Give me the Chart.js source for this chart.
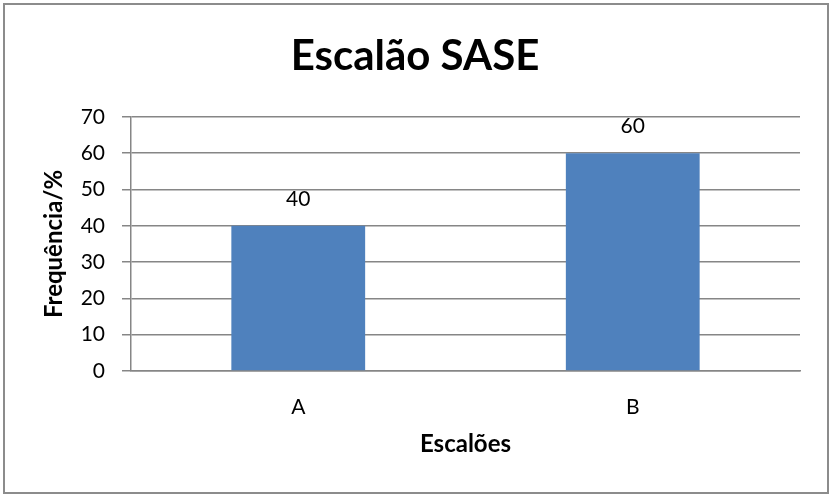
<!DOCTYPE html>
<html>
<head>
<meta charset="utf-8">
<script src="https://cdn.jsdelivr.net/npm/chart.js@4/dist/chart.umd.min.js"></script>
<style>
html,body{margin:0;padding:0;background:#fff;}
#wrap{position:relative;width:830px;height:495px;}
</style>
</head>
<body>
<div id="wrap"><canvas id="c" width="830" height="495"></canvas></div>
<script>
const categories = ['A', 'B'];
const values = [40, 60];
const yTicks = [0, 10, 20, 30, 40, 50, 60, 70];
const titleText = 'Escalão SASE';
const xTitle = 'Escalões';
const yTitle = 'Frequência/%';

const FONT = "Lato, 'Open Sans', 'DejaVu Sans', sans-serif";
const GRAY = '#868686';

const borderPlugin = {
  id: 'outerBorder',
  beforeDraw(chart) {
    const ctx = chart.ctx;
    ctx.save();
    ctx.fillStyle = '#fff';
    ctx.fillRect(0, 0, chart.width, chart.height);
    ctx.strokeStyle = '#8c8c8c';
    ctx.lineWidth = 2;
    ctx.strokeRect(4, 4, 824, 489);
    ctx.restore();
  }
};

const labelPlugin = {
  id: 'barLabels',
  afterDatasetsDraw(chart) {
    const ctx = chart.ctx;
    const meta = chart.getDatasetMeta(0);
    ctx.save();
    ctx.font = "21px " + FONT;
    ctx.fillStyle = '#000';
    ctx.textAlign = 'center';
    ctx.textBaseline = 'middle';
    meta.data.forEach((bar, i) => {
      ctx.fillText(String(chart.data.datasets[0].data[i]), bar.x, bar.y - 27);
    });
    ctx.restore();
  }
};

new Chart(document.getElementById('c'), {
  type: 'bar',
  data: {
    labels: categories,
    datasets: [{
      data: values,
      backgroundColor: '#4F81BD',
      borderWidth: 0,
      categoryPercentage: 0.8,
      barPercentage: 0.5,
      yAxisID: 'y'
    }]
  },
  options: {
    responsive: false,
    animation: false,
    devicePixelRatio: 1,
    layout: { padding: { left: 0, right: 0, top: 0, bottom: 0 } },
    plugins: {
      legend: { display: false },
      tooltip: { enabled: false },
      title: {
        display: true,
        text: titleText,
        color: '#000',
        font: { family: FONT, size: 42, weight: 'bold', lineHeight: 1.2 },
        padding: { top: 31.5, bottom: 35 }
      }
    },
    scales: {
      x: {
        grid: { display: false, drawTicks: false },
        border: { display: true, color: GRAY, width: 1.5 },
        ticks: { color: '#000', font: { family: FONT, size: 21 }, padding: 24 },
        title: {
          display: true, text: xTitle, color: '#000',
          font: { family: FONT, size: 24, weight: 'bold', lineHeight: 1.2 },
          padding: { top: 0, bottom: 36 }
        },
        afterFit(scale) { scale.height = 124; }
      },
      y: {
        position: 'left',
        min: 0, max: 70,
        afterBuildTicks(scale) { scale.ticks = yTicks.map(v => ({ value: v })); },
        grid: { color: GRAY, lineWidth: 1.5, tickLength: 9, drawTicks: true },
        border: { display: true, color: GRAY, width: 1.5 },
        ticks: { color: '#000', font: { family: FONT, size: 21 }, padding: 17 },
        title: {
          display: true, text: yTitle, color: '#000',
          font: { family: FONT, size: 24, weight: 'bold', lineHeight: 1.2 },
          padding: { top: 40, bottom: 0 }
        },
        afterFit(scale) { scale.width = 131; }
      },
      yRight: {
        position: 'right',
        min: 0, max: 70,
        grid: { display: false, drawTicks: false },
        border: { display: false },
        ticks: { display: false },
        afterFit(scale) { scale.width = 30; }
      }
    }
  },
  plugins: [borderPlugin, labelPlugin]
});
</script>
</body>
</html>
